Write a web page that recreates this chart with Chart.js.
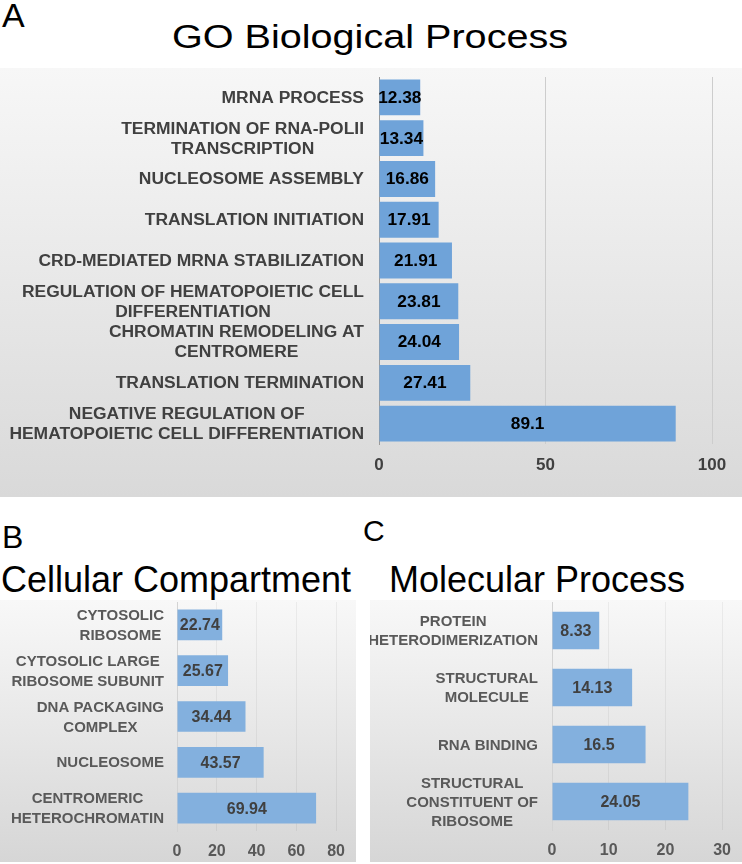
<!DOCTYPE html>
<html>
<head>
<meta charset="utf-8">
<script src="https://cdn.jsdelivr.net/npm/chart.js@4.4.0/dist/chart.umd.min.js"></script>
<style>
body { margin:0; background:#fff; width:742px; height:864px; position:relative; overflow:hidden; font-family:'Liberation Sans', Arial, sans-serif; }
.txt { position:absolute; line-height:1; color:#000; white-space:nowrap; }
.panel { position:absolute; }
#panelA { left:0; top:68px; width:742px; height:429px; background:linear-gradient(#f7f7f7, #d9d9d9); }
#panelB { left:0; top:600px; width:356px; height:262px; background:linear-gradient(#f8f8f8, #d6d6d6); }
#panelC { left:370px; top:600px; width:372px; height:262px; background:linear-gradient(#f8f8f8, #d6d6d6); }
</style>
</head>
<body>
<div class="txt" style="left:2px; top:-2px; font-size:34px;">A</div>
<div class="txt" style="left:370px; top:20px; font-size:33px; transform:translateX(-50%) scaleX(1.2);">GO Biological Process</div>
<div class="txt" style="left:2px; top:521px; font-size:32px;">B</div>
<div class="txt" style="left:363px; top:516px; font-size:30px;">C</div>
<div class="txt" style="left:1px; top:562px; font-size:36px;">Cellular Compartment</div>
<div class="txt" style="left:389px; top:562px; font-size:36px;">Molecular Process</div>

<div class="panel" id="panelA"><canvas id="chartA" width="742" height="429"></canvas></div>
<div class="panel" id="panelB"><canvas id="chartB" width="356" height="262"></canvas></div>
<div class="panel" id="panelC"><canvas id="chartC" width="372" height="262"></canvas></div>

<script>
const FONT = "'Liberation Sans', Arial, sans-serif";

// GO Biological Process
const bpLabels = [
    ['MRNA PROCESS'],
    ['TERMINATION OF RNA-POLII', 'TRANSCRIPTION'],
    ['NUCLEOSOME ASSEMBLY'],
    ['TRANSLATION INITIATION'],
    ['CRD-MEDIATED MRNA STABILIZATION'],
    ['REGULATION OF HEMATOPOIETIC CELL', 'DIFFERENTIATION'],
    ['CHROMATIN REMODELING AT', 'CENTROMERE'],
    ['TRANSLATION TERMINATION'],
    ['NEGATIVE REGULATION OF', 'HEMATOPOIETIC CELL DIFFERENTIATION']
];
const bpValues = [12.38, 13.34, 16.86, 17.91, 21.91, 23.81, 24.04, 27.41, 89.1];
const bpTicks = [0, 50, 100];

// Cellular Compartment
const ccLabels = [
    ['CYTOSOLIC', 'RIBOSOME'],
    ['CYTOSOLIC LARGE', 'RIBOSOME SUBUNIT'],
    ['DNA PACKAGING', 'COMPLEX'],
    ['NUCLEOSOME'],
    ['CENTROMERIC', 'HETEROCHROMATIN']
];
const ccValues = [22.74, 25.67, 34.44, 43.57, 69.94];
const ccTicks = [0, 20, 40, 60, 80];

// Molecular Process
const mpLabels = [
    ['PROTEIN', 'HETERODIMERIZATION'],
    ['STRUCTURAL', 'MOLECULE'],
    ['RNA BINDING'],
    ['STRUCTURAL', 'CONSTITUENT OF', 'RIBOSOME']
];
const mpValues = [8.33, 14.13, 16.5, 24.05];
const mpTicks = [0, 10, 20, 30];

// draw text, optionally stretched sideways
function drawText(ctx, text, x, y, sx) {
    ctx.save();
    ctx.translate(x, y);
    ctx.scale(sx, 1);
    ctx.fillText(text, 0, 0);
    ctx.restore();
}

// value in the middle of each bar
const valueLabels = {
    id: 'valueLabels',
    afterDatasetsDraw(chart, args, opts) {
        const ctx = chart.ctx;
        const vals = chart.data.datasets[0].data;
        ctx.save();
        ctx.font = 'bold ' + opts.size + 'px ' + FONT;
        ctx.fillStyle = opts.color;
        ctx.textAlign = 'center';
        ctx.textBaseline = 'middle';
        chart.getDatasetMeta(0).data.forEach(function(bar, i) {
            drawText(ctx, String(vals[i]), (bar.x + bar.base) / 2, bar.y + 1, opts.sx);
        });
        ctx.restore();
    }
};

// category labels, lines centred in a block that is right aligned to the axis
const catLabels = {
    id: 'catLabels',
    afterDraw(chart, args, opts) {
        const ctx = chart.ctx;
        const sc = chart.scales.y;
        ctx.save();
        ctx.font = 'bold ' + opts.size + 'px ' + FONT;
        ctx.fillStyle = opts.color;
        ctx.textAlign = 'center';
        ctx.textBaseline = 'middle';
        chart.data.labels.forEach(function(lines, i) {
            const y = sc.getPixelForValue(i);
            const w = Math.max.apply(null, lines.map(l => ctx.measureText(l).width * opts.sx));
            const cx = chart.chartArea.left - opts.gap - w / 2;
            lines.forEach(function(l, j) {
                drawText(ctx, l, cx, y + (j - (lines.length - 1) / 2) * opts.lineHeight + 1, opts.sx);
            });
        });
        ctx.restore();
    }
};

function makeChart(id, labels, values, ticks, cfg) {
    const ctx = document.getElementById(id).getContext('2d');
    return new Chart(ctx, {
        type: 'bar',
        data: {
            labels: labels,
            datasets: [{
                data: values,
                backgroundColor: cfg.barColor,
                barPercentage: cfg.barPct,
                categoryPercentage: 1
            }]
        },
        plugins: [valueLabels, catLabels],
        options: {
            indexAxis: 'y',
            responsive: false,
            animation: false,
            devicePixelRatio: 1,
            layout: { padding: { top: cfg.top, right: cfg.right, bottom: 0, left: 0 } },
            plugins: {
                legend: { display: false },
                tooltip: { enabled: false },
                valueLabels: cfg.values,
                catLabels: cfg.cats
            },
            scales: {
                x: {
                    min: ticks[0],
                    max: ticks[ticks.length - 1],
                    afterBuildTicks: function(scale) {
                        scale.ticks = ticks.map(v => ({ value: v }));
                    },
                    ticks: {
                        color: cfg.tickColor,
                        font: { family: FONT, size: cfg.tickSize, weight: 'bold' },
                        padding: cfg.tickPad,
                        maxRotation: 0
                    },
                    grid: {
                        drawTicks: false,
                        color: c => c.tick && c.tick.value === 0 ? 'rgba(0,0,0,0)' : cfg.gridColor
                    },
                    border: { display: false },
                    afterFit: function(scale) { scale.height = cfg.xHeight; }
                },
                y: {
                    ticks: { display: false },
                    grid: { display: false },
                    border: { display: true, color: cfg.axisColor },
                    afterFit: function(scale) { scale.width = cfg.yWidth; }
                }
            }
        }
    });
}

document.addEventListener('DOMContentLoaded', function() {
    makeChart('chartA', bpLabels, bpValues, bpTicks, {
        barColor: '#6fa3d9', barPct: 0.88, top: 9, right: 30, yWidth: 379, xHeight: 53,
        tickColor: '#404040', tickSize: 17, tickPad: 11,
        gridColor: '#cdcdcd', axisColor: '#9a9a9a',
        values: { size: 16, color: '#000', sx: 1.08 },
        cats: { size: 16, color: '#404040', sx: 1.09, gap: 15, lineHeight: 20 }
    });
    makeChart('chartB', ccLabels, ccValues, ccTicks, {
        barColor: '#83b0de', barPct: 0.67, top: 2, right: 19, yWidth: 177, xHeight: 31,
        tickColor: '#595959', tickSize: 16, tickPad: 11,
        gridColor: 'rgba(0,0,0,0.05)', axisColor: '#d3d3d3',
        values: { size: 16, color: '#404040', sx: 1 },
        cats: { size: 15, color: '#595959', sx: 1, gap: 13, lineHeight: 20 }
    });
    makeChart('chartC', mpLabels, mpValues, mpTicks, {
        barColor: '#83b0de', barPct: 0.66, top: 2, right: 11, yWidth: 182, xHeight: 32,
        tickColor: '#595959', tickSize: 16, tickPad: 11,
        gridColor: 'rgba(0,0,0,0.05)', axisColor: '#d3d3d3',
        values: { size: 16, color: '#404040', sx: 1 },
        cats: { size: 15, color: '#595959', sx: 1, gap: 14, lineHeight: 19 }
    });
});
</script>
</body>
</html>
